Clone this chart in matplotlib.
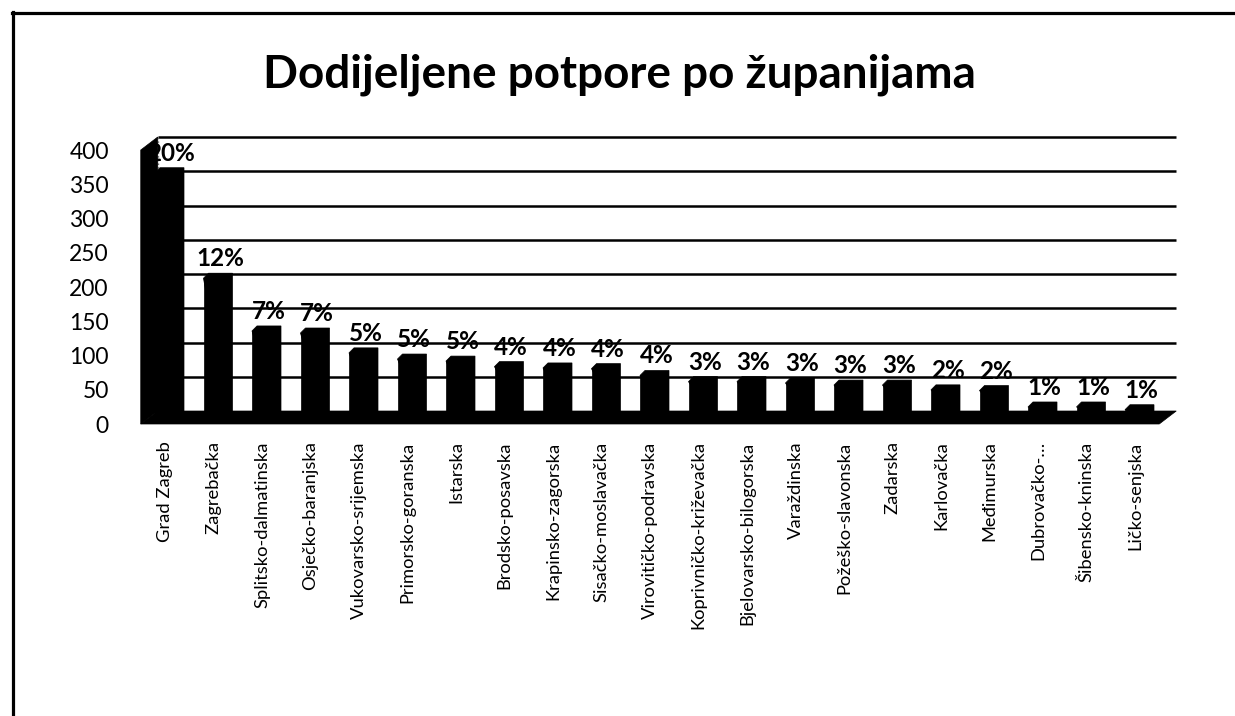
import matplotlib
matplotlib.use("Agg")
import matplotlib.pyplot as plt
from matplotlib.patches import Polygon
from matplotlib.lines import Line2D
import matplotlib.transforms as mtrans

# ---------------- data ----------------
categories = ["Grad Zagreb", "Zagrebačka", "Splitsko-dalmatinska", "Osječko-baranjska",
              "Vukovarsko-srijemska", "Primorsko-goranska", "Istarska", "Brodsko-posavska",
              "Krapinsko-zagorska", "Sisačko-moslavačka", "Virovitičko-podravska",
              "Koprivničko-križevačka", "Bjelovarsko-bilogorska", "Varaždinska",
              "Požeško-slavonska", "Zadarska", "Karlovačka", "Međimurska", "Dubrovačko-…",
              "Šibensko-kninska", "Ličko-senjska"]
values = [361, 207, 130, 127, 98, 89, 86, 78, 76, 75, 65, 56, 56, 54, 51, 51, 44, 43, 19, 19, 15]
y_ticks = [0, 50, 100, 150, 200, 250, 300, 350, 400]
title = "Dodijeljene potpore po županijama"

FONT = ["Lato", "DejaVu Sans"]
plt.rcParams["font.family"] = FONT

W, H = 1235, 716
fig = plt.figure(figsize=(W / 100, H / 100), dpi=100)
fig.patch.set_facecolor("white")

def fy(py):
    return 1 - py / H

# front plane of the 3D box
ax = fig.add_axes([140.75 / W, fy(424), 1018.5 / W, 274 / H])
n = len(categories)
ax.set_xlim(-0.5, n - 0.5)
ax.set_ylim(0, 400)
for s in ax.spines.values():
    s.set_visible(False)
ax.set_facecolor("none")

# pixel -> data conversion
p0 = ax.transData.transform((0, 0))
p1 = ax.transData.transform((1, 1))
ux = p1[0] - p0[0]
uy = p1[1] - p0[1]

# back wall offset (pixels)
BX, BY = 17 / ux, 13 / uy
x_left, x_right = -0.5, n - 0.5

# floor
ax.add_patch(Polygon([(x_left, 0), (x_right, 0), (x_right + BX, BY), (x_left + BX, BY)],
                     closed=True, facecolor="black", edgecolor="black", lw=0.5,
                     clip_on=False, zorder=1))
# left wall
ax.add_patch(Polygon([(x_left, 0), (x_left, 400), (x_left + BX, 400 + BY), (x_left + BX, BY)],
                     closed=True, facecolor="black", edgecolor="black", lw=0.5,
                     clip_on=False, zorder=2))
# gridlines on the back wall
for t in y_ticks[1:]:
    ax.plot([x_left + BX, x_right + BX], [t + BY, t + BY], color="black", lw=1.8,
            clip_on=False, zorder=0.5, solid_capstyle="butt")
ax.plot([x_left + BX, x_left + BX], [BY, 400 + BY], color="0.45", lw=1.0, ls=":",
        clip_on=False, zorder=0.6)

# bars (front faces offset slightly into depth)
front = ax.transData + mtrans.ScaledTranslation(2 / 100, 4 / 100, fig.dpi_scale_trans)
bars = ax.bar(range(n), values, width=24 / ux, color="black", edgecolor="black", lw=0.5,
              transform=front, zorder=3, clip_on=False)
DX, DY = 5 / ux, 5 / uy
for r in bars:
    x0, w, h = r.get_x(), r.get_width(), r.get_height()
    ax.add_patch(Polygon([(x0, h), (x0 + DX, h + DY), (x0 + w + DX, h + DY),
                          (x0 + w + DX, DY), (x0 + w, 0)], closed=True,
                         facecolor="black", edgecolor="black", lw=0.5,
                         transform=front, zorder=3, clip_on=False))

# percentage labels
total = sum(values)
for r in bars:
    h = r.get_height()
    pct = round(h / total * 100)
    ax.annotate(f"{pct}%", xy=(r.get_x() + r.get_width() / 2, h),
                xytext=(6.5 * 0.72, 16 * 0.72), textcoords="offset points",
                ha="center", va="baseline", fontsize=17.5, fontweight="bold",
                color="black", zorder=5, annotation_clip=False)

# axes ticks
ax.set_yticks(y_ticks)
ax.set_yticklabels([str(t) for t in y_ticks], fontsize=16.5)
ax.tick_params(axis="y", length=0, pad=23)
ax.set_xticks(range(n))
ax.set_xticklabels(categories, rotation=90, fontsize=13.2)
ax.tick_params(axis="x", length=0, pad=12.5)

# title
fig.text(619 / W, fy(88), title, ha="center", va="baseline", fontsize=33,
         fontweight="bold", color="black")

# frame lines (left and top)
fig.add_artist(Line2D([13 / W, 13 / W], [fy(12), 0], transform=fig.transFigure,
                      color="black", lw=2.3))
fig.add_artist(Line2D([12 / W, 1], [fy(13), fy(13)], transform=fig.transFigure,
                      color="black", lw=2.3))

fig.savefig("out.png", dpi=100, facecolor="white")
